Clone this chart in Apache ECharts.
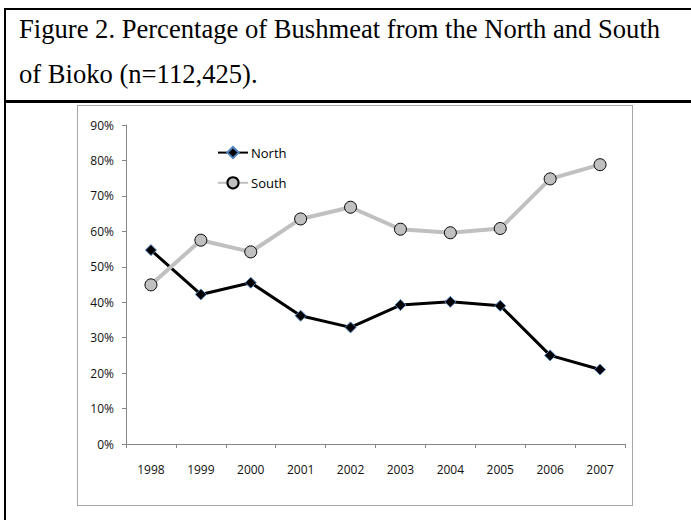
<!DOCTYPE html>
<html>
<head>
<meta charset="utf-8">
<script src="https://cdn.jsdelivr.net/npm/echarts@6/dist/echarts.min.js"></script>
<style>
  body { margin: 0; background: #fff; }
  #page { position: relative; width: 691px; height: 520px; overflow: hidden; }
  #frame { position: absolute; left: 4px; top: 8px; width: 700px; height: 600px;
           border-left: 2px solid #000; border-top: 2px solid #000; }
  #sep { position: absolute; left: 4px; top: 100px; width: 700px; height: 0;
         border-top: 3px solid #000; }
  .title { position: absolute; left: 19px; font-family: "Liberation Serif", serif;
           font-size: 26.6px; color: #000; white-space: nowrap; }
  #myChart { position: absolute; left: 77px; top: 105px; width: 556px; height: 401px;
             box-sizing: border-box; border: 1px solid #a6a6a6; }
</style>
</head>
<body>
<div id="page">
  <div id="frame"></div>
  <div id="sep"></div>
  <div class="title" style="top:14px">Figure 2. Percentage of Bushmeat from the North and South</div>
  <div class="title" style="top:59px">of Bioko (n=112,425).</div>
  <div id="myChart"></div>
</div>
<script>
var years = ['1998', '1999', '2000', '2001', '2002', '2003', '2004', '2005', '2006', '2007']
var north = [54.7, 42.2, 45.5, 36.2, 32.9, 39.2, 40.1, 39.0, 25.0, 21.0]
var south = [44.9, 57.5, 54.2, 63.5, 66.8, 60.6, 59.6, 60.8, 74.8, 78.8]

var myChart = echarts.init(document.getElementById('myChart'), null, {renderer: 'svg'})
myChart.setOption({
  animation: false,
  textStyle: {fontFamily: 'Open Sans'},
  legend: {
    orient: 'vertical',
    left: 134,
    top: 35,
    itemWidth: 30,
    itemHeight: 14,
    itemGap: 17,
    textStyle: {fontSize: 13, color: '#000', fontFamily: 'Open Sans', padding: [0, 0, 0, -2]},
    data: ['North', 'South']
  },
  grid: {
    left: 48,
    right: 7,
    top: 19,
    bottom: 61
  },
  xAxis: {
    type: 'category',
    boundaryGap: true,
    data: years,
    axisLine: {lineStyle: {color: '#868686', width: 1}},
    axisTick: {show: true, length: 4, lineStyle: {color: '#868686'}},
    axisLabel: {margin: 19, fontSize: 12, color: '#111'}
  },
  yAxis: {
    type: 'value',
    min: 0,
    max: 90,
    interval: 10,
    splitLine: {show: false},
    axisLine: {show: true, lineStyle: {color: '#868686', width: 1}},
    axisTick: {show: true, length: 4, lineStyle: {color: '#868686'}},
    axisLabel: {margin: 12, fontSize: 12, color: '#111', formatter: '{value}%'}
  },
  series: [{
    name: 'North',
    type: 'line',
    data: north,
    symbol: 'diamond',
    symbolSize: 11,
    lineStyle: {color: '#000', width: 3},
    itemStyle: {color: '#000', borderColor: '#4f81bd', borderWidth: 1}
  }, {
    name: 'South',
    type: 'line',
    data: south,
    symbol: 'circle',
    symbolSize: 12,
    lineStyle: {color: '#c0c0c0', width: 4},
    itemStyle: {color: '#c0c0c0', borderColor: '#000', borderWidth: 1}
  }]
})
</script>
</body>
</html>
